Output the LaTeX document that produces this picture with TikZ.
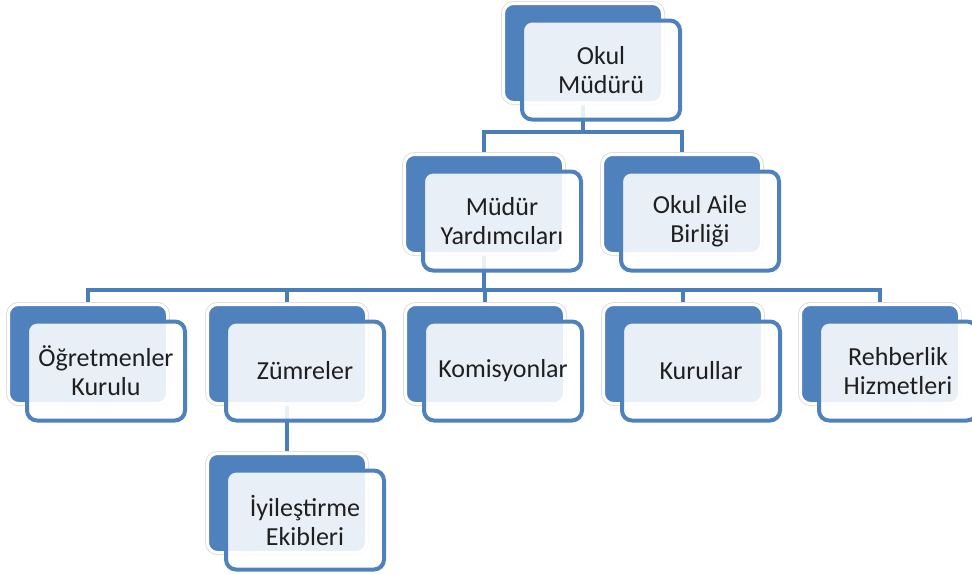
\documentclass[tikz,border=0pt]{standalone}
\usepackage{fontspec}
\setmainfont{Carlito}
\usetikzlibrary{backgrounds}
\definecolor{boxblue}{HTML}{4F81BD}
\definecolor{linkblue}{HTML}{4A7EBB}
\tikzset{
  backbox/.style={rectangle, rounded corners=10pt, fill=boxblue, draw=white, line width=3pt,
    preaction={draw=black!12, line width=5pt}, minimum width=159pt, minimum height=99pt, inner sep=0pt},
  frontbox/.style={rectangle, rounded corners=10pt, fill=white, fill opacity=0.88, text opacity=1,
    draw=boxblue, line width=4pt, minimum width=158pt, minimum height=99pt, inner sep=0pt,
    align=center, text=black!88, font=\fontsize{26}{29}\selectfont},
  link/.style={draw=linkblue, line width=4pt}
}
\begin{document}
\begin{tikzpicture}[x=1pt, y=-1pt]
      \useasboundingbox (0,0) rectangle (972,574);

      % Boxes
      \foreach \n/\x/\y/\t in {okul/583/53/{Okul\\Müdürü}, yrd/484/204/{Müdür\\Yardımcıları},
        aile/682/204/{Okul Aile\\Birliği}, ogr/88/354/{Öğretmenler\\Kurulu}, zum/287/354/{Zümreler},
        kom/485/354/{Komisyonlar}, kur/683/354/{Kurullar}, reh/880/354/{Rehberlik\\Hizmetleri},
        iyi/287/503/{İyileştirme\\Ekibleri}}
      {
        \node[backbox] (\n-b) at (\x,\y) {};
        \node[frontbox] (\n) at ([shift={(18,17)}]\n-b.center) {\t};
      }

      % Connections
      \coordinate (bus1) at (0,132);
      \coordinate (bus2) at (0,290);
      \begin{scope}[on background layer]
        \draw[link] (okul-b.south) -- (okul-b.south |- bus1);
        \draw[link, line cap=rect] (yrd-b.north |- bus1) -- (aile-b.north |- bus1);
        \foreach \n in {yrd,aile}
        \draw[link] (\n-b.north |- bus1) -- (\n-b.north);

        \draw[link] (yrd-b.south) -- (yrd-b.south |- bus2);
        \draw[link, line cap=rect] (ogr-b.north |- bus2) -- (reh-b.north |- bus2);
        \foreach \n in {ogr,zum,kom,kur,reh}
        \draw[link] (\n-b.north |- bus2) -- (\n-b.north);

        \draw[link] (zum-b.south) -- (iyi-b.north);
      \end{scope}

   \end{tikzpicture}
\end{document}
